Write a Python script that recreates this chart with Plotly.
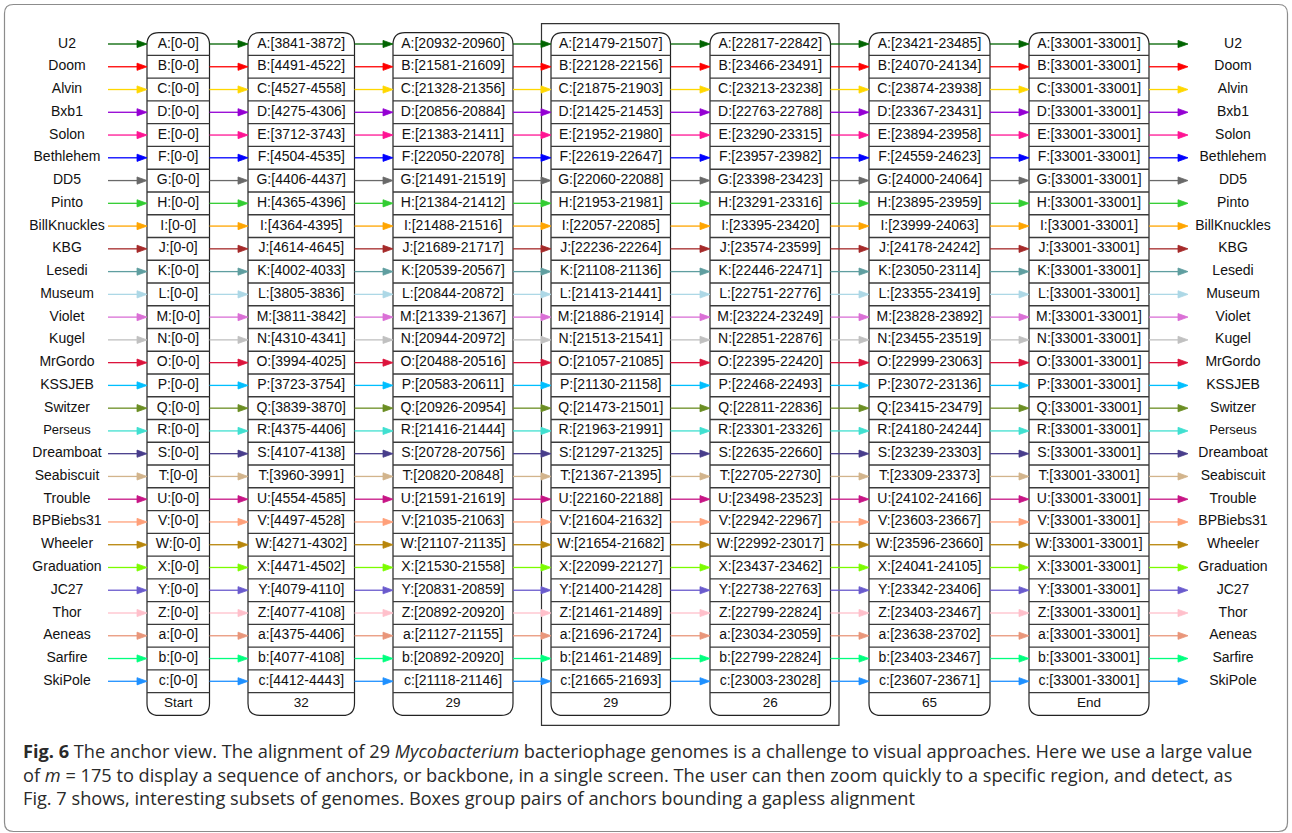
import plotly.graph_objects as go

# ---------------- data ----------------
genomes = ["U2", "Doom", "Alvin", "Bxb1", "Solon", "Bethlehem", "DD5", "Pinto",
           "BillKnuckles", "KBG", "Lesedi", "Museum", "Violet", "Kugel", "MrGordo",
           "KSSJEB", "Switzer", "Perseus", "Dreamboat", "Seabiscuit", "Trouble",
           "BPBiebs31", "Wheeler", "Graduation", "JC27", "Thor", "Aeneas", "Sarfire",
           "SkiPole"]
letters = ["A", "B", "C", "D", "E", "F", "G", "H", "I", "J", "K", "L", "M", "N", "O",
           "P", "Q", "R", "S", "T", "U", "V", "W", "X", "Y", "Z", "a", "b", "c"]
genome_colors = ["#006400", "#ff0000", "#ffd700", "#9400d3", "#ff1493", "#0000ff",
                 "#696969", "#32cd32", "#ffa500", "#a52a2a", "#5f9ea0", "#add8e6",
                 "#da70d6", "#c0c0c0", "#dc143c", "#00bfff", "#6b8e23", "#40e0d0",
                 "#483d8b", "#d2b48c", "#c71585", "#ffa07a", "#b8860b", "#7cfc00",
                 "#6a5acd", "#ffc0cb", "#e9967a", "#00ff7f", "#1e90ff"]

column_labels = ["Start", "32", "29", "29", "26", "65", "End"]

anchors_start = ["0-0", "0-0", "0-0", "0-0", "0-0", "0-0", "0-0", "0-0", "0-0", "0-0",
                 "0-0", "0-0", "0-0", "0-0", "0-0", "0-0", "0-0", "0-0", "0-0", "0-0",
                 "0-0", "0-0", "0-0", "0-0", "0-0", "0-0", "0-0", "0-0", "0-0"]
anchors_32 = ["3841-3872", "4491-4522", "4527-4558", "4275-4306", "3712-3743",
              "4504-4535", "4406-4437", "4365-4396", "4364-4395", "4614-4645",
              "4002-4033", "3805-3836", "3811-3842", "4310-4341", "3994-4025",
              "3723-3754", "3839-3870", "4375-4406", "4107-4138", "3960-3991",
              "4554-4585", "4497-4528", "4271-4302", "4471-4502", "4079-4110",
              "4077-4108", "4375-4406", "4077-4108", "4412-4443"]
anchors_29a = ["20932-20960", "21581-21609", "21328-21356", "20856-20884", "21383-21411",
               "22050-22078", "21491-21519", "21384-21412", "21488-21516", "21689-21717",
               "20539-20567", "20844-20872", "21339-21367", "20944-20972", "20488-20516",
               "20583-20611", "20926-20954", "21416-21444", "20728-20756", "20820-20848",
               "21591-21619", "21035-21063", "21107-21135", "21530-21558", "20831-20859",
               "20892-20920", "21127-21155", "20892-20920", "21118-21146"]
anchors_29b = ["21479-21507", "22128-22156", "21875-21903", "21425-21453", "21952-21980",
               "22619-22647", "22060-22088", "21953-21981", "22057-22085", "22236-22264",
               "21108-21136", "21413-21441", "21886-21914", "21513-21541", "21057-21085",
               "21130-21158", "21473-21501", "21963-21991", "21297-21325", "21367-21395",
               "22160-22188", "21604-21632", "21654-21682", "22099-22127", "21400-21428",
               "21461-21489", "21696-21724", "21461-21489", "21665-21693"]
anchors_26 = ["22817-22842", "23466-23491", "23213-23238", "22763-22788", "23290-23315",
              "23957-23982", "23398-23423", "23291-23316", "23395-23420", "23574-23599",
              "22446-22471", "22751-22776", "23224-23249", "22851-22876", "22395-22420",
              "22468-22493", "22811-22836", "23301-23326", "22635-22660", "22705-22730",
              "23498-23523", "22942-22967", "22992-23017", "23437-23462", "22738-22763",
              "22799-22824", "23034-23059", "22799-22824", "23003-23028"]
anchors_65 = ["23421-23485", "24070-24134", "23874-23938", "23367-23431", "23894-23958",
              "24559-24623", "24000-24064", "23895-23959", "23999-24063", "24178-24242",
              "23050-23114", "23355-23419", "23828-23892", "23455-23519", "22999-23063",
              "23072-23136", "23415-23479", "24180-24244", "23239-23303", "23309-23373",
              "24102-24166", "23603-23667", "23596-23660", "24041-24105", "23342-23406",
              "23403-23467", "23638-23702", "23403-23467", "23607-23671"]
anchors_end = ["33001-33001", "33001-33001", "33001-33001", "33001-33001", "33001-33001",
               "33001-33001", "33001-33001", "33001-33001", "33001-33001", "33001-33001",
               "33001-33001", "33001-33001", "33001-33001", "33001-33001", "33001-33001",
               "33001-33001", "33001-33001", "33001-33001", "33001-33001", "33001-33001",
               "33001-33001", "33001-33001", "33001-33001", "33001-33001", "33001-33001",
               "33001-33001", "33001-33001", "33001-33001", "33001-33001"]
anchor_columns = [anchors_start, anchors_32, anchors_29a, anchors_29b,
                  anchors_26, anchors_65, anchors_end]
grouped_pair = (3, 4)  # indices of the boxed pair of anchors

caption_lines = [
    "<b>Fig. 6</b> The anchor view. The alignment of 29 <i>Mycobacterium</i> bacteriophage genomes is a challenge to visual approaches. Here we use a large value",
    "of <i>m</i> = 175 to display a sequence of anchors, or backbone, in a single screen. The user can then zoom quickly to a specific region, and detect, as",
    "Fig. 7 shows, interesting subsets of genomes. Boxes group pairs of anchors bounding a gapless alignment",
]

# ---------------- layout constants (pixel-like axes) ----------------
W, H = 1292, 833
col_left = [147, 248, 393, 551, 710, 869, 1029]
col_right = [209.5, 354.5, 513, 670.5, 830.5, 990, 1149]
row0, pitch = 44.0, 22.76
radius = 12
label_left_x, label_right_x = 67, 1233
arrow_in_start, arrow_out_end = 108, 1188
head_len, head_half = 10, 3.6
font_family = "Liberation Sans, Arial, sans-serif"
cell_font = dict(family=font_family, size=14, color="#111")

n_rows = len(genomes)


def row_y(i):
    return row0 + i * pitch


box_top = row_y(0) - pitch / 2
box_bottom = row_y(n_rows) + pitch / 2


def rounded(x0, y0, x1, y1, r):
    return (f"M {x0 + r},{y0} L {x1 - r},{y0} Q {x1},{y0} {x1},{y0 + r} "
            f"L {x1},{y1 - r} Q {x1},{y1} {x1 - r},{y1} L {x0 + r},{y1} "
            f"Q {x0},{y1} {x0},{y1 - r} L {x0},{y0 + r} Q {x0},{y0} {x0 + r},{y0} Z")


fig = go.Figure()
shapes = []

# outer frame
shapes.append(dict(type="path", path=rounded(4.5, 4.5, 1287.5, 831.5, 9),
                   line=dict(color="#8c8c8c", width=1.2), fillcolor="rgba(0,0,0,0)",
                   layer="below"))
# group box around the gapless pair
gx0 = col_left[grouped_pair[0]] - 9.5
gx1 = col_right[grouped_pair[1]] + 8.5
shapes.append(dict(type="rect", x0=gx0, x1=gx1, y0=box_top - 9, y1=box_bottom + 10,
                   line=dict(color="#333333", width=1.2), fillcolor="rgba(0,0,0,0)",
                   layer="below"))

# column boxes
sep_x, sep_y = [], []
for c in range(len(anchor_columns)):
    x0, x1 = col_left[c], col_right[c]
    shapes.append(dict(type="path", path=rounded(x0, box_top, x1, box_bottom, radius),
                       line=dict(color="#222222", width=1.2), fillcolor="white",
                       layer="below"))
    for i in range(n_rows):
        yb = row_y(i) + pitch / 2
        sep_x += [x0, x1, None]
        sep_y += [yb, yb, None]

fig.add_trace(go.Scatter(x=sep_x, y=sep_y, mode="lines",
                         line=dict(color="#3a3a3a", width=1.4),
                         hoverinfo="skip", showlegend=False))

# cell texts
for c, col in enumerate(anchor_columns):
    xc = (col_left[c] + col_right[c]) / 2
    texts = [f"{letters[i]}:[{col[i]}]" for i in range(n_rows)]
    fig.add_trace(go.Scatter(x=[xc] * n_rows, y=[row_y(i) for i in range(n_rows)],
                             mode="text", text=texts, textfont=cell_font,
                             textposition="middle center", hoverinfo="skip",
                             showlegend=False))
    fig.add_trace(go.Scatter(x=[xc], y=[row_y(n_rows)], mode="text",
                             text=[column_labels[c]],
                             textfont=dict(family=font_family, size=13.5, color="#111"),
                             textposition="middle center", hoverinfo="skip",
                             showlegend=False))

# genome labels on both sides
label_sizes = [13 if g == "Perseus" else 14 for g in genomes]
for xl in (label_left_x, label_right_x):
    fig.add_trace(go.Scatter(x=[xl] * n_rows, y=[row_y(i) for i in range(n_rows)],
                             mode="text", text=genomes,
                             textfont=dict(family=font_family, size=label_sizes,
                                           color="#111"),
                             textposition="middle center", hoverinfo="skip",
                             showlegend=False))

# arrows per genome
starts = [arrow_in_start] + col_right
ends = col_left + [arrow_out_end]
for i, g in enumerate(genomes):
    y = row_y(i)
    lx, ly, hx, hy = [], [], [], []
    for s, e in zip(starts, ends):
        lx += [s, e - head_len + 1, None]
        ly += [y, y, None]
        hx += [e - head_len, e, e - head_len, e - head_len, None]
        hy += [y - head_half, y, y + head_half, y - head_half, None]
    col = genome_colors[i]
    fig.add_trace(go.Scatter(x=lx, y=ly, mode="lines", line=dict(color=col, width=1.3),
                             hoverinfo="skip", showlegend=False, name=g))
    fig.add_trace(go.Scatter(x=hx, y=hy, mode="lines", fill="toself", fillcolor=col,
                             line=dict(color=col, width=0.8), hoverinfo="skip",
                             showlegend=False, name=g))

# caption (one multi-line text block)
annotations = [dict(x=21, y=774, xref="x", yref="y", text="<br>".join(caption_lines),
                    showarrow=False, xanchor="left", yanchor="middle", align="left",
                    font=dict(family="Open Sans, Noto Sans, sans-serif", size=18.2,
                              color="#2a2a2a"))]

fig.update_layout(
    width=W, height=H, margin=dict(l=0, r=0, t=0, b=0),
    paper_bgcolor="white", plot_bgcolor="white",
    xaxis=dict(range=[0, W], visible=False, fixedrange=True),
    yaxis=dict(range=[H, 0], visible=False, fixedrange=True),
    shapes=shapes, annotations=annotations, showlegend=False,
)

fig.write_html("out.html", config={"displayModeBar": False},
               post_script="document.body.style.margin='0';document.body.style.overflow='hidden';")
